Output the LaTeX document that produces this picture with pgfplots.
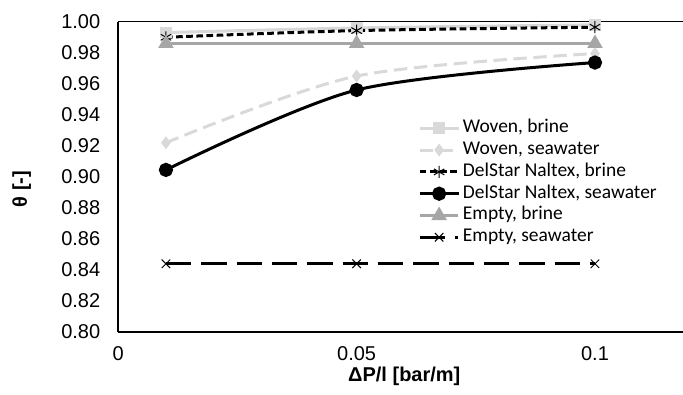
\documentclass[border=0pt]{standalone}
\usepackage{pgfplots}
\pgfplotsset{compat=1.18}
\usepackage{fontspec}
\setmainfont{Liberation Sans}
\newfontfamily\legendfont{Carlito}
\definecolor{lgray}{HTML}{D9D9D9}
\definecolor{mgray}{HTML}{A6A6A6}
\begin{document}
\begin{tikzpicture}
\begin{axis}[
  at={(0,0)}, anchor=south west,
  scale only axis,
  width=429pt, height=232.7pt,
  xmin=0, xmax=0.12, ymin=0.8, ymax=1.0,
  clip=false,
  axis x line*=bottom, axis y line*=left,
  axis line style={-, line width=1.5pt},
  major tick length=0pt,
  xtick={0,0.05,0.1}, xticklabels={0,0.05,0.1},
  ytick={0.80,0.82,0.84,0.86,0.88,0.90,0.92,0.94,0.96,0.98,1.00},
  /pgf/number format/assume math mode=true,
  /pgf/number format/fixed, /pgf/number format/fixed zerofill, /pgf/number format/precision=2,
  tick label style={font=\fontsize{15}{18}\selectfont},
  xticklabel style={yshift=-7.7pt},
  yticklabel style={xshift=-10pt},
  xlabel={ΔP/l [bar/m]},
  ylabel={θ [-]},
  xlabel style={at={(axis description cs:0.5,-0.144)}, anchor=center, font=\bfseries\fontsize{15}{18}\selectfont},
  ylabel style={at={(axis description cs:-0.169,0.461)}, anchor=center, font=\bfseries\fontsize{15}{18}\selectfont},
  legend cell align=left,
  legend image code/.code={
    \draw[mark repeat=2,mark phase=2,#1] plot coordinates {(0pt,0pt) (14.5pt,0pt) (29pt,0pt)};
  },
  legend style={at={(rel axis cs:0.524,0.6926)}, anchor=north west, draw=none, fill=none,
    font=\legendfont\fontsize{14.6}{17}\selectfont, inner sep=0pt, row sep=0pt,
    nodes={inner sep=0pt, text height=11.5pt, text depth=4.85pt},
    /tikz/every odd column/.append style={column sep=2.25pt}},
]
\addplot[color=lgray, line width=2.25pt, smooth, mark=square*, mark size=3.3pt, mark options={solid}]
  coordinates {(0.01,0.993)(0.05,0.996)(0.1,0.998)};
\addlegendentry{Woven, brine}
\addplot[color=lgray, line width=2.25pt, dash pattern=on 10pt off 5pt, smooth, mark=diamond*, mark size=3pt, mark options={solid}]
  coordinates {(0.01,0.922)(0.05,0.965)(0.1,0.9795)};
\addlegendentry{Woven, seawater}
\addplot[black, line width=2.25pt, dash pattern=on 5pt off 2.6pt, smooth, mark=asterisk, mark size=4.5pt, mark options={solid, line width=0.75pt}]
  coordinates {(0.01,0.990)(0.05,0.9943)(0.1,0.9965)};
\addlegendentry{DelStar Naltex, brine}
\addplot[black, line width=2.25pt, smooth, mark=*, mark size=4.2pt]
  coordinates {(0.01,0.9045)(0.05,0.956)(0.1,0.9737)};
\addlegendentry{DelStar Naltex, seawater}
\addplot[mgray, line width=2.25pt, mark=triangle*, mark size=4.5pt]
  coordinates {(0.01,0.986)(0.05,0.986)(0.1,0.986)};
\addlegendentry{Empty, brine}
\addplot[black, line width=2.25pt, dash pattern=on 19pt off 7.5pt, mark=x, mark size=4.5pt, mark options={solid, line width=0.75pt}]
  coordinates {(0.01,0.844)(0.05,0.844)(0.1,0.844)};
\addlegendentry{Empty, seawater}
\draw[line width=0.75pt] (rel axis cs:0,1) -- (rel axis cs:1,1);
\end{axis}
\pgfresetboundingbox
\path[use as bounding box] (-88.7pt,-46.5pt) rectangle (423.5pt,249pt);
\end{tikzpicture}
\end{document}
